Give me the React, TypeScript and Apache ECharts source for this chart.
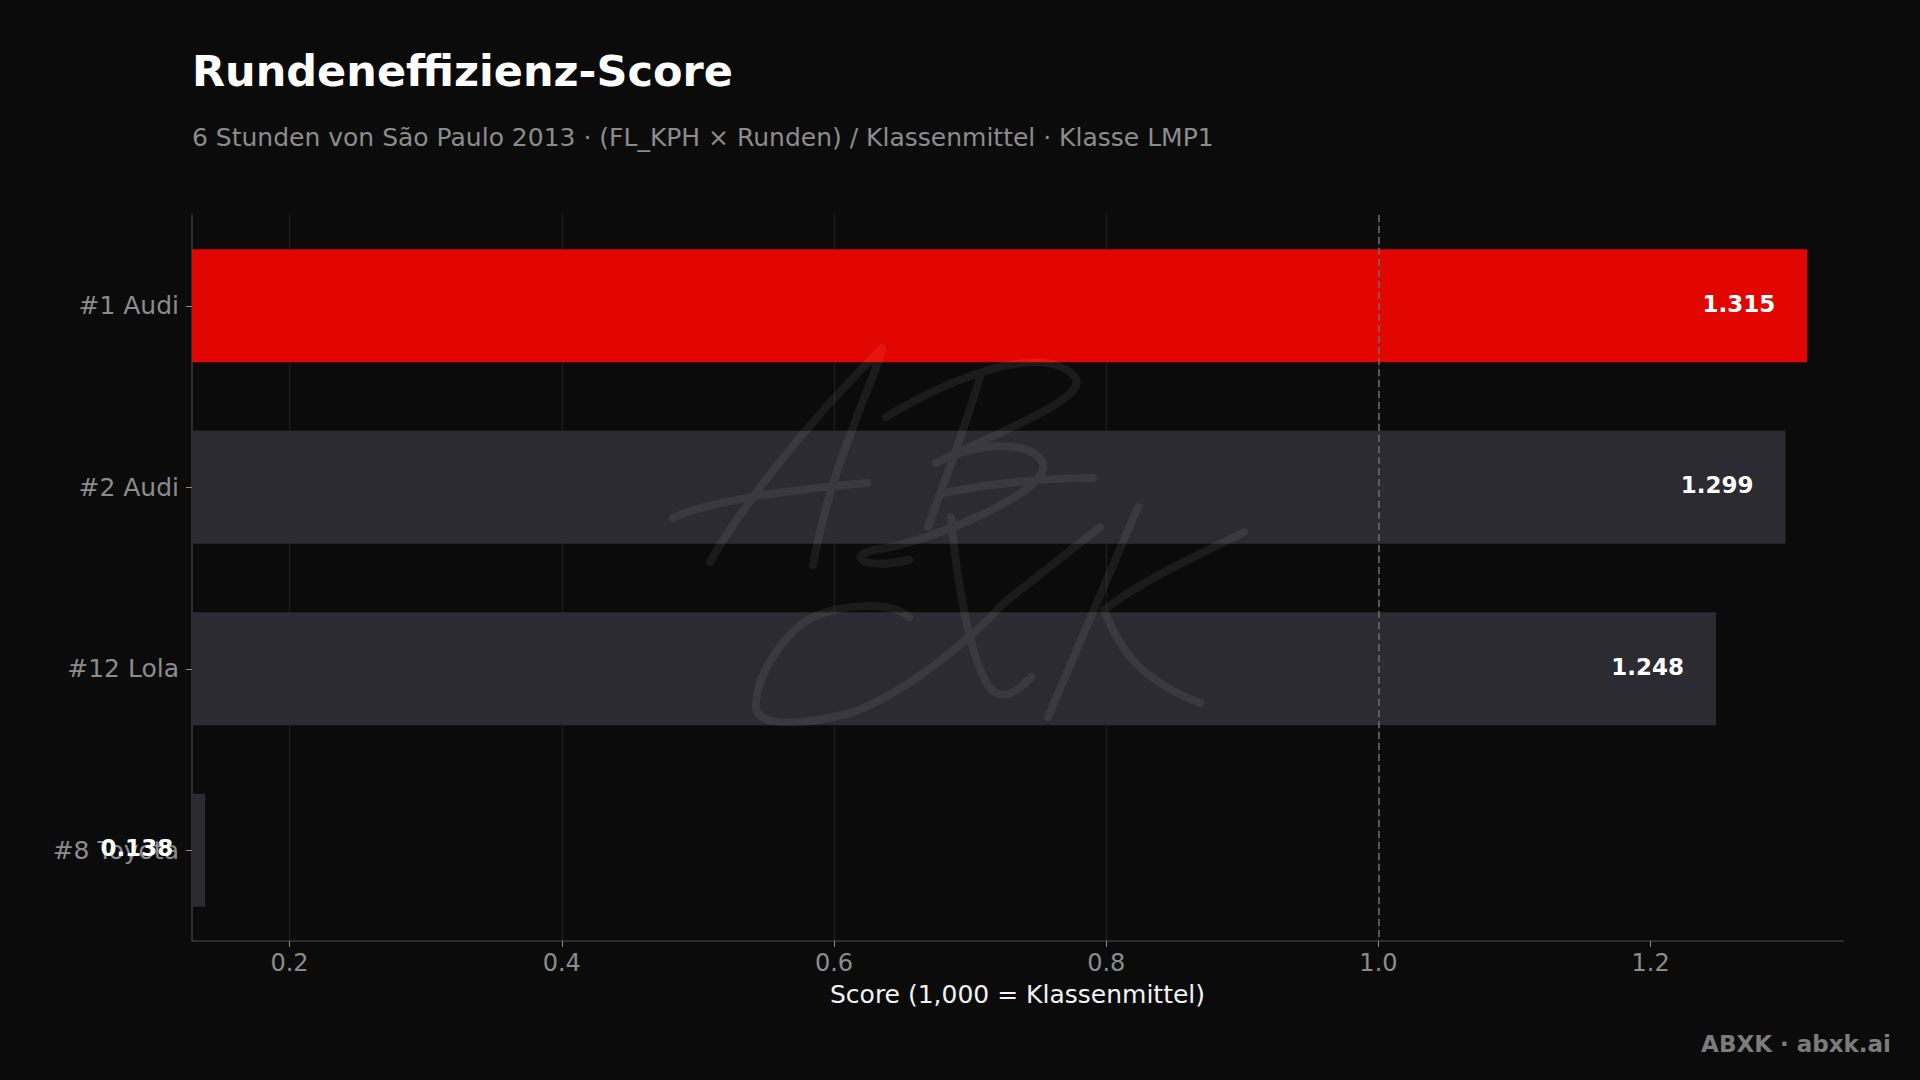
import React, { useEffect, useRef } from "react";
import * as echarts from "echarts";

const categories = ["#1 Audi", "#2 Audi", "#12 Lola", "#8 Toyota"];
const scores = [1.315, 1.299, 1.248, 0.138];
const highlighted = [true, false, false, false];
const xTickValues = [0.2, 0.4, 0.6, 0.8, 1.0, 1.2];
const classMean = 1.0;
const xMin = 0.12834;
const xMax = 1.3413;

const TITLE = "Rundeneffizienz-Score";
const SUBTITLE = "6 Stunden von São Paulo 2013 · (FL_KPH × Runden) / Klassenmittel · Klasse LMP1";
const X_NAME = "Score (1,000 = Klassenmittel)";
const BRAND = "ABXK · abxk.ai";

const RED = "#E10600";
const GRAY_BAR = "#2C2B31";
const BG = "#0B0B0C";
const FONT = "DejaVu Sans";

const LOGO_D = [
  "M710 562 C740 510 800 430 882 348",
  "M882 350 C866 400 830 470 813 565",
  "M673 518 C700 504 780 490 867 483",
  "M980 377 C968 420 945 480 928 527",
  "M886 417 C947 380 1043 340 1075 377 C1090 397 1004 430 936 463",
  "M936 463 C985 437 1047 443 1043 470 C1035 497 928 543 874 550 C844 557 867 570 909 560",
  "M943 493 C1000 482 1050 478 1093 478",
  "M909 617 C890 600 840 605 813 617 C780 635 755 680 756 707 C758 725 790 728 851 713 C900 695 960 650 1004 603 L1100 527",
  "M951 517 C955 560 965 640 985 680 C995 700 1010 700 1031 677",
  "M1138 507 L1048 717",
  "M1244 532 C1200 555 1150 575 1104 610",
  "M1104 610 C1120 650 1140 680 1200 703",
].join(" ");

let registered = false;
function ensureShape() {
  if (registered) return;
  echarts.graphic.registerShape("abxkLogo", echarts.graphic.extendPath(LOGO_D, {}) as any);
  registered = true;
}

export default function App() {
  const ref = useRef<HTMLDivElement>(null);
  useEffect(() => {
    document.body.style.margin = "0";
    document.body.style.background = BG;
    ensureShape();
    const chart = echarts.init(ref.current!, null, { renderer: "svg" });
    const option: any = {
      animation: false,
      backgroundColor: BG,
      textStyle: { fontFamily: FONT },
      title: [
        {
          text: TITLE,
          left: 192,
          top: 49,
          padding: 0,
          textStyle: { color: "#FFFFFF", fontSize: 43, fontWeight: "bold", fontFamily: FONT, lineHeight: 43 },
        },
        {
          text: SUBTITLE,
          left: 192,
          top: 125,
          padding: 0,
          textStyle: { color: "#8C8C8C", fontSize: 25, fontWeight: "normal", fontFamily: FONT, lineHeight: 25 },
        },
      ],
      grid: { left: 192, right: 77, top: 215, bottom: 139, containLabel: false },
      xAxis: {
        type: "value",
        min: xMin,
        max: xMax,
        axisLine: { show: true, lineStyle: { color: "#3A3A3C", width: 1.5 } },
        axisTick: { show: true, length: 6, lineStyle: { color: "#8A8A8A" }, customValues: xTickValues },
        axisLabel: {
          customValues: xTickValues,
          color: "#8C8C8C",
          fontSize: 24,
          fontFamily: FONT,
          margin: 10,
          formatter: (v: number) => v.toFixed(1),
        },
        splitLine: { show: true, showMinLine: true, showMaxLine: false, lineStyle: { color: "#1F1F22", width: 1 } },
        name: X_NAME,
        nameLocation: "middle",
        nameGap: 41,
        nameTextStyle: { color: "#F2F2F2", fontSize: 25, fontFamily: FONT },
      },
      yAxis: {
        type: "category",
        data: categories,
        inverse: true,
        axisLine: { show: true, lineStyle: { color: "#3A3A3C", width: 1.5 } },
        axisTick: { show: true, alignWithLabel: true, length: 6, lineStyle: { color: "#8A8A8A" } },
        axisLabel: { color: "#8C8C8C", fontSize: 25, fontFamily: FONT, margin: 13 },
        splitLine: { show: false },
      },
      series: [
        {
          type: "bar",
          barWidth: "62.3%",
          data: scores.map((v, i) => ({ value: v, itemStyle: { color: highlighted[i] ? RED : GRAY_BAR } })),
          label: {
            show: true,
            position: "insideRight",
            distance: 32,
            offset: [0, -2],
            color: "#FFFFFF",
            fontWeight: "bold",
            fontSize: 23,
            fontFamily: FONT,
            formatter: (p: any) => Number(p.value).toFixed(3),
          },
          markLine: {
            silent: true,
            symbol: ["none", "none"],
            label: { show: false },
            lineStyle: { type: [7, 4], color: "#6E6E6E", width: 1.5 },
            data: [{ xAxis: classMean }],
          },
        },
      ],
      graphic: [
        {
          type: "abxkLogo",
          x: 0,
          y: 0,
          z: 10,
          silent: true,
          style: {
            fill: "none",
            stroke: "rgba(255,255,255,0.065)",
            lineWidth: 8,
            lineCap: "round",
            lineJoin: "round",
          },
        },
        {
          type: "text",
          x: 1891,
          y: 1044,
          z: 10,
          style: {
            text: BRAND,
            fill: "#7C7C7C",
            fontSize: 23,
            fontWeight: "bold",
            fontFamily: FONT,
            align: "right",
            verticalAlign: "middle",
          },
        },
      ],
    };
    chart.setOption(option);
    return () => chart.dispose();
  }, []);
  return (
    <div
      ref={ref}
      style={{ position: "fixed", left: 0, top: 0, width: 1920, height: 1080, background: BG }}
    />
  );
}
